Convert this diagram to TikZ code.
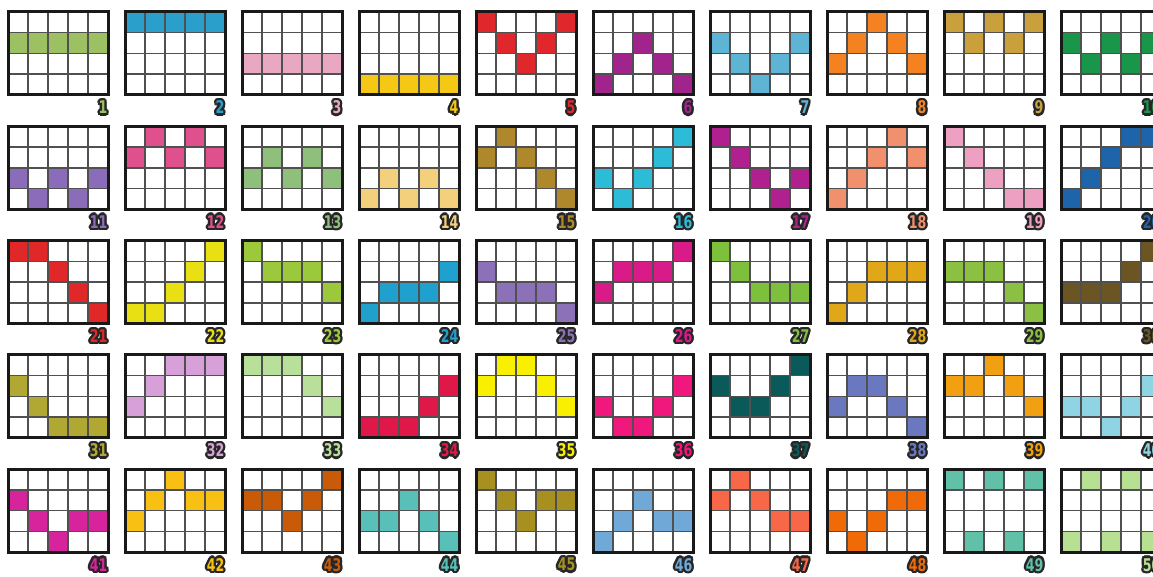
\documentclass[tikz,border=0pt]{standalone}
\usepackage{fontspec}
\usepackage{graphicx}
\newfontfamily\numfont{DejaVu Sans}
\definecolor{c1}{HTML}{9DC063}
\definecolor{c2}{HTML}{2A9FCC}
\definecolor{c3}{HTML}{E8A8C2}
\definecolor{c4}{HTML}{F5C816}
\definecolor{c5}{HTML}{E0282C}
\definecolor{c6}{HTML}{A0248C}
\definecolor{c7}{HTML}{5EB4D4}
\definecolor{c8}{HTML}{F58220}
\definecolor{c9}{HTML}{C9A03C}
\definecolor{c10}{HTML}{1A964A}
\definecolor{c11}{HTML}{8A6CBA}
\definecolor{c12}{HTML}{E0508C}
\definecolor{c13}{HTML}{8EC07C}
\definecolor{c14}{HTML}{F2D07C}
\definecolor{c15}{HTML}{B0882C}
\definecolor{c16}{HTML}{2CBCD8}
\definecolor{c17}{HTML}{B0208E}
\definecolor{c18}{HTML}{F0906C}
\definecolor{c19}{HTML}{EEA0C2}
\definecolor{c20}{HTML}{1E64AA}
\definecolor{c21}{HTML}{E02828}
\definecolor{c22}{HTML}{E8E012}
\definecolor{c23}{HTML}{9CC83C}
\definecolor{c24}{HTML}{20A0CC}
\definecolor{c25}{HTML}{8C70B8}
\definecolor{c26}{HTML}{D81B88}
\definecolor{c27}{HTML}{7CC03C}
\definecolor{c28}{HTML}{E0A818}
\definecolor{c29}{HTML}{8CC042}
\definecolor{c30}{HTML}{6B5522}
\definecolor{c31}{HTML}{B0A832}
\definecolor{c32}{HTML}{D8A0D8}
\definecolor{c33}{HTML}{B8E09A}
\definecolor{c34}{HTML}{E0184A}
\definecolor{c35}{HTML}{F8F000}
\definecolor{c36}{HTML}{F0187C}
\definecolor{c37}{HTML}{0A5A5A}
\definecolor{c38}{HTML}{6A78C0}
\definecolor{c39}{HTML}{F0A010}
\definecolor{c40}{HTML}{8ED4E4}
\definecolor{c41}{HTML}{D8249C}
\definecolor{c42}{HTML}{F8C012}
\definecolor{c43}{HTML}{C85A08}
\definecolor{c44}{HTML}{58C0B8}
\definecolor{c45}{HTML}{A89020}
\definecolor{c46}{HTML}{70A8D8}
\definecolor{c47}{HTML}{F86848}
\definecolor{c48}{HTML}{F06A08}
\definecolor{c49}{HTML}{60C0A8}
\definecolor{c50}{HTML}{B8E092}
\definecolor{gridgray}{HTML}{505050}
\tikzset{
  innerline/.style={draw=gridgray,line width=1.5pt},
  outerline/.style={draw=black!90,line width=3pt},
  lbl/.style={anchor=east,inner sep=0pt,font=\numfont\bfseries\fontsize{17.5}{17.5}\selectfont}
}
\begin{document}
\begin{tikzpicture}[x=1pt,y=-1pt]
\useasboundingbox (0,0) rectangle (1153,577);
\fill[white] (0,0) rectangle (1153,577);
\foreach \n/\a/\b/\c/\d/\e in {
 1/1/1/1/1/1, 2/0/0/0/0/0, 3/2/2/2/2/2, 4/3/3/3/3/3, 5/0/1/2/1/0,
 6/3/2/1/2/3, 7/1/2/3/2/1, 8/2/1/0/1/2, 9/0/1/0/1/0, 10/1/2/1/2/1,
 11/2/3/2/3/2, 12/1/0/1/0/1, 13/2/1/2/1/2, 14/3/2/3/2/3, 15/1/0/1/2/3,
 16/2/3/2/1/0, 17/0/1/2/3/2, 18/3/2/1/0/1, 19/0/1/2/3/3, 20/3/2/1/0/0,
 21/0/0/1/2/3, 22/3/3/2/1/0, 23/0/1/1/1/2, 24/3/2/2/2/1, 25/1/2/2/2/3,
 26/2/1/1/1/0, 27/0/1/2/2/2, 28/3/2/1/1/1, 29/1/1/1/2/3, 30/2/2/2/1/0,
 31/1/2/3/3/3, 32/2/1/0/0/0, 33/0/0/0/1/2, 34/3/3/3/2/1, 35/1/0/0/1/2,
 36/2/3/3/2/1, 37/1/2/2/1/0, 38/2/1/1/2/3, 39/1/1/0/1/2, 40/2/2/3/2/1,
 41/1/2/3/2/2, 42/2/1/0/1/1, 43/1/1/2/1/0, 44/2/2/1/2/3, 45/0/1/2/1/1,
 46/3/2/1/2/2, 47/1/0/1/2/2, 48/2/3/2/1/1, 49/0/3/0/3/0, 50/3/0/3/0/3}{
  \pgfmathtruncatemacro\col{mod(\n-1,10)}
  \pgfmathtruncatemacro\row{div(\n-1,10)}
  \pgfmathsetmacro\gx{8+117*\col}
  \pgfmathsetmacro\gy{12+114.3*\row}
  \begin{scope}[shift={(\gx,\gy)}]
    \fill[white] (0,0) rectangle (100,83);
    \foreach \r [count=\k from 0] in {\a,\b,\c,\d,\e}
      \fill[fill=c\n] (20*\k,20.75*\r) rectangle ++(20,20.75);
    \foreach \vx in {20,40,60,80} \draw[innerline] (\vx,0) -- (\vx,83);
    \foreach \hy in {20.75,41.5,62.25} \draw[innerline] (0,\hy) -- (100,\hy);
    \draw[outerline] (0,0) rectangle (100,83);
    \foreach \ang in {0,30,...,330}
      \node[lbl,text=black!85] (l\n-\ang) at ([shift={(\ang:2.3)}]99.5,95.5) {\scalebox{0.72}[1]{\n}};
    \node[lbl,text=c\n] (lab\n) at (99.5,95.5) {\scalebox{0.72}[1]{\n}};
  \end{scope}
}
\end{tikzpicture}
\end{document}
